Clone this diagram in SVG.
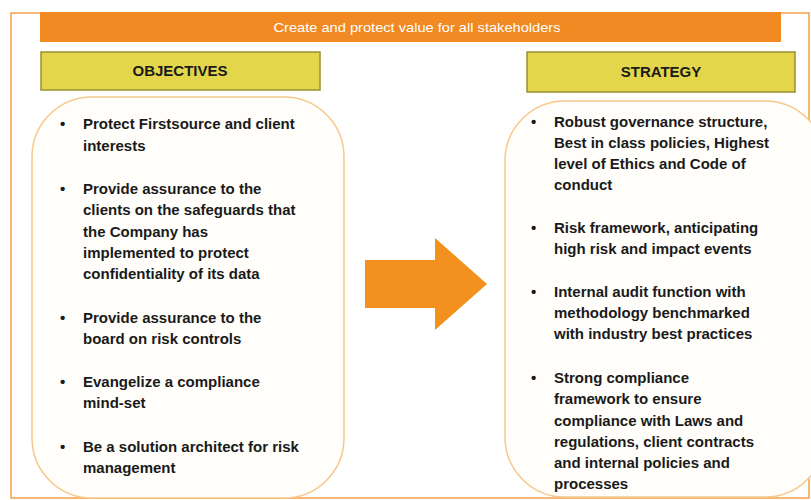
<svg xmlns="http://www.w3.org/2000/svg" width="811" height="500" viewBox="0 0 811 500">
<style>
.t{font-family:"Liberation Sans",Arial,sans-serif;font-weight:bold;font-size:15px;fill:#1a1a1a}
.h{font-family:"Liberation Sans",Arial,sans-serif;font-weight:bold;font-size:15px;fill:#1a1a1a;text-anchor:middle}
.hd{fill:#e3d64a;stroke:#9c9030;stroke-width:1.5}
.box{fill:#fffefb;stroke:#f6c88a;stroke-width:1.5}
</style>
<rect width="811" height="500" fill="#ffffff"/>
<rect x="11" y="13" width="798" height="485" fill="none" stroke="#f4a04a" stroke-width="1.5"/>
<g id="banner">
<rect x="40" y="12" width="741" height="30" fill="#f18a22"/>
<text x="417" y="32" font-family="Liberation Sans,Arial,sans-serif" font-size="13" fill="#ffffff" text-anchor="middle" textLength="287" lengthAdjust="spacingAndGlyphs">Create and protect value for all stakeholders</text>
</g>
<g id="objectives-head">
<rect class="hd" x="41" y="52" width="279" height="38"/>
<text class="h" x="180" y="76">OBJECTIVES</text>
</g>
<g id="strategy-head">
<rect class="hd" x="527" y="52" width="268" height="40"/>
<text class="h" x="661" y="77">STRATEGY</text>
</g>
<g id="objectives">
<rect class="box" x="32" y="97" width="312" height="401" rx="60" ry="60"/>
<g class="t">
<text x="60" y="129">•</text><text x="83" y="129">Protect Firstsource and client</text>
<text x="83" y="151">interests</text>
<text x="60" y="194">•</text><text x="83" y="194">Provide assurance to the</text>
<text x="83" y="215">clients on the safeguards that</text>
<text x="83" y="237">the Company has</text>
<text x="83" y="258">implemented to protect</text>
<text x="83" y="279">confidentiality of its data</text>
<text x="60" y="323">•</text><text x="83" y="323">Provide assurance to the</text>
<text x="83" y="344">board on risk controls</text>
<text x="60" y="387">•</text><text x="83" y="387">Evangelize a compliance</text>
<text x="83" y="408">mind-set</text>
<text x="60" y="452">•</text><text x="83" y="452">Be a solution architect for risk</text>
<text x="83" y="473">management</text>
</g>
</g>
<g id="strategy">
<rect class="box" x="505" y="101" width="320" height="396" rx="60" ry="60"/>
<g class="t">
<text x="531" y="127">•</text><text x="554" y="127">Robust governance structure,</text>
<text x="554" y="148">Best in class policies, Highest</text>
<text x="554" y="169">level of Ethics and Code of</text>
<text x="554" y="190">conduct</text>
<text x="531" y="233">•</text><text x="554" y="233">Risk framework, anticipating</text>
<text x="554" y="254">high risk and impact events</text>
<text x="531" y="297">•</text><text x="554" y="297">Internal audit function with</text>
<text x="554" y="318">methodology benchmarked</text>
<text x="554" y="339">with industry best practices</text>
<text x="531" y="383">•</text><text x="554" y="383">Strong compliance</text>
<text x="554" y="404">framework to ensure</text>
<text x="554" y="426">compliance with Laws and</text>
<text x="554" y="447">regulations, client contracts</text>
<text x="554" y="468">and internal policies and</text>
<text x="554" y="489">processes</text>
</g>
</g>
<g id="connectors">
<polygon points="365,260 435,260 435,238 487,284 435,330 435,308 365,308" fill="#f3911f"/>
</g>
</svg>
